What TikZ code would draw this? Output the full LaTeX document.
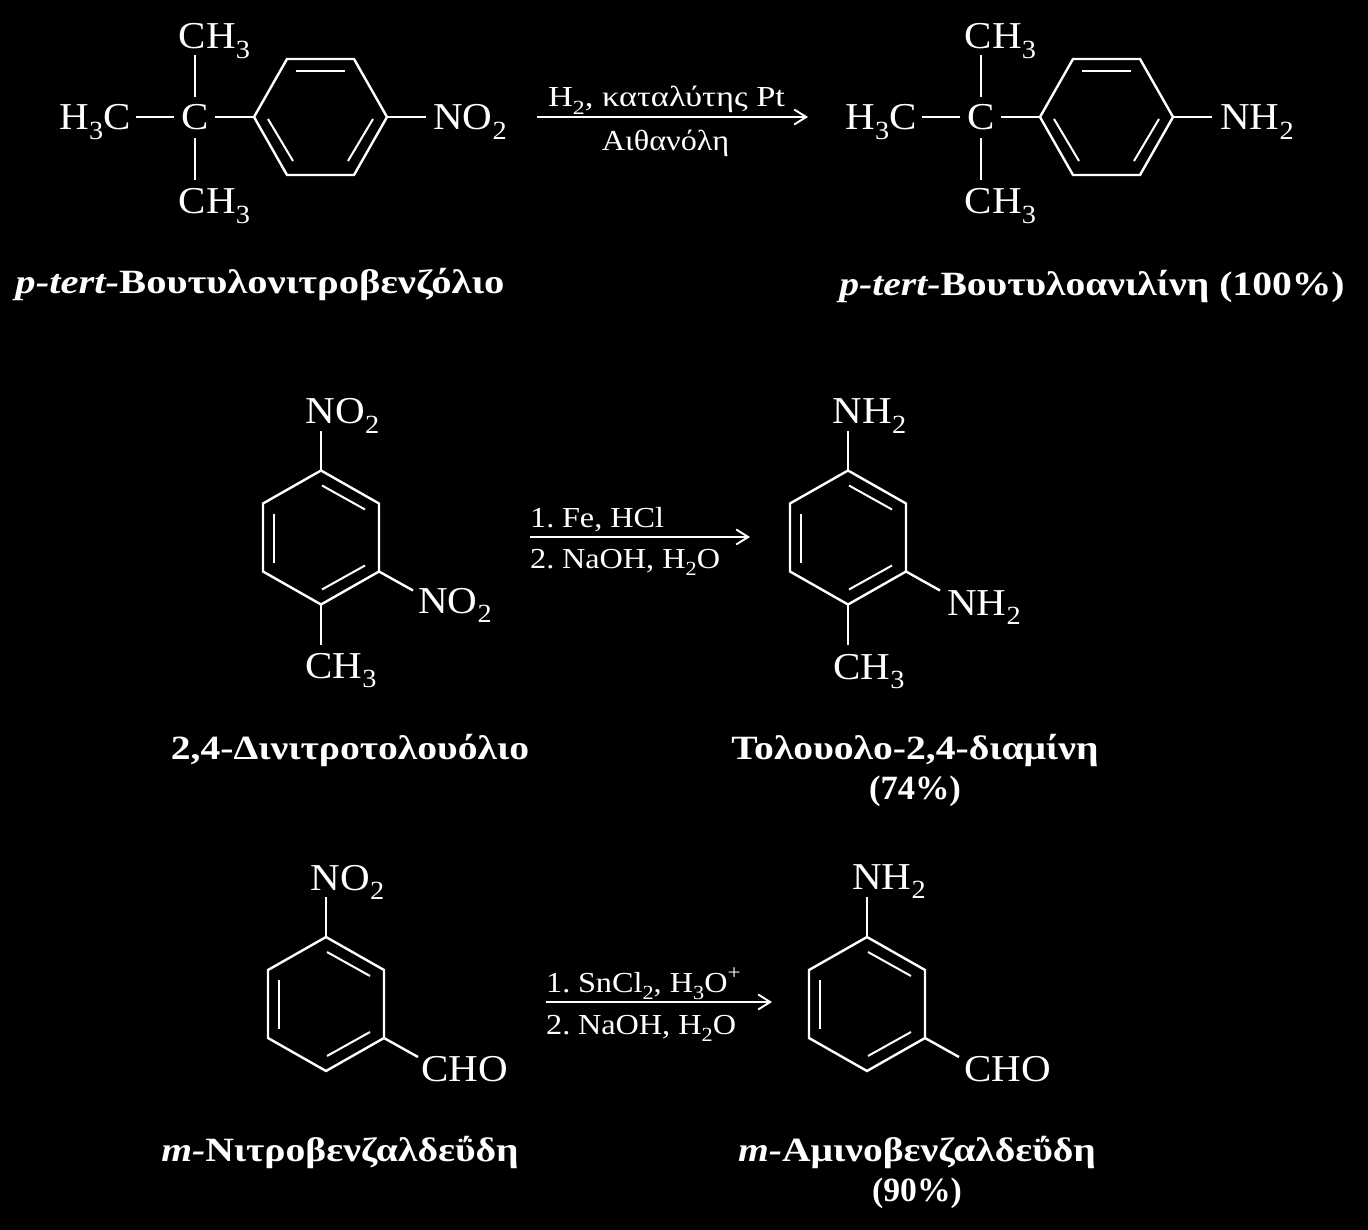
\documentclass[tikz,border=0pt]{standalone}
\usepackage{fontspec}
\setmainfont{Liberation Serif}[FakeStretch=1.08]
\newfontfamily\capfont{Liberation Serif}[FakeStretch=1.165]
\usetikzlibrary{arrows.meta}
\newcommand{\subs}[1]{\raisebox{-0.26em}{\fontsize{0.69em}{1em}\selectfont #1}}
\newcommand{\sups}[1]{\raisebox{0.42em}{\fontsize{0.72em}{1em}\selectfont #1}}
\newcommand{\wider}[1]{\scalebox{1.03}[1]{#1}}
\tikzset{
  bond/.style={draw=white,line width=2.4pt,line join=miter},
  inner bond/.style={draw=white,line width=2pt},
  rxn arrow/.style={draw=white,line width=2.1pt,-{Straight Barb[length=12pt,width=15pt,line width=1.9pt]}},
  atoms/.style={text=white,inner sep=0pt,anchor=base,font=\fontsize{38}{40}\selectfont},
  reagent/.style={text=white,inner sep=0pt,anchor=base,font=\fontsize{29}{32}\selectfont},
  reagentl/.style={reagent,anchor=base west},
  caption/.style={text=white,inner sep=0pt,anchor=base,font=\fontsize{34}{38}\selectfont\capfont\bfseries},
}
% flat-topped benzene ring
\newcommand{\ringflat}[3]{%
  \begin{scope}[shift={(#2,#3)}]
    \coordinate (#1L) at (-66.5,0);
    \coordinate (#1R) at (66.5,0);
    \coordinate (#1TL) at (-33.5,-58);
    \coordinate (#1TR) at (33.5,-58);
    \coordinate (#1BL) at (-33.5,58);
    \coordinate (#1BR) at (33.5,58);
    \coordinate (#1ia) at (-24.5,-46);
    \coordinate (#1ib) at (24.5,-46);
    \coordinate (#1ic) at (-52.5,2);
    \coordinate (#1id) at (-27.5,44);
    \coordinate (#1ie) at (52.5,2);
    \coordinate (#1if) at (27.5,44);
  \end{scope}
  \draw[bond] (#1L) -- (#1TL) -- (#1TR) -- (#1R) -- (#1BR) -- (#1BL) -- cycle;
  \draw[inner bond] (#1ia) -- (#1ib);
  \draw[inner bond] (#1ic) -- (#1id);
  \draw[inner bond] (#1ie) -- (#1if);
}
% pointy-topped benzene ring
\newcommand{\ringpoint}[3]{%
  \begin{scope}[shift={(#2,#3)}]
    \coordinate (#1T) at (0,-67);
    \coordinate (#1UR) at (58,-34);
    \coordinate (#1LR) at (58,34);
    \coordinate (#1B) at (0,67);
    \coordinate (#1LL) at (-58,34);
    \coordinate (#1UL) at (-58,-34);
    \coordinate (#1ia) at (1,-52);
    \coordinate (#1ib) at (44,-28);
    \coordinate (#1ic) at (-47,-24);
    \coordinate (#1id) at (-47,25);
    \coordinate (#1ie) at (44,28);
    \coordinate (#1if) at (1,52);
    \coordinate (#1top) at (0,-107);
    \coordinate (#1sub) at (92,53);
  \end{scope}
  \draw[bond] (#1T) -- (#1UR) -- (#1LR) -- (#1B) -- (#1LL) -- (#1UL) -- cycle;
  \draw[inner bond] (#1ia) -- (#1ib);
  \draw[inner bond] (#1ic) -- (#1id);
  \draw[inner bond] (#1ie) -- (#1if);
  \draw[bond] (#1T) -- (#1top);
  \draw[bond] (#1LR) -- (#1sub);
}
% tert-butyl arm attached to a flat ring
\newcommand{\tbutyl}[2]{%
  \begin{scope}[shift={(#2,117)}]
    \coordinate (#1cw) at (-21,0);
    \coordinate (#1me) at (-59,0);
    \coordinate (#1ce) at (20,0);
    \coordinate (#1cn) at (0,-20);
    \coordinate (#1mn) at (0,-62);
    \coordinate (#1cs) at (0,21);
    \coordinate (#1ms) at (0,63);
  \end{scope}
  \draw[bond] (#1cw) -- (#1me);
  \draw[bond] (#1ce) -- (#1rL);
  \draw[bond] (#1cn) -- (#1mn);
  \draw[bond] (#1cs) -- (#1ms);
}
\begin{document}
\begin{tikzpicture}[x=1pt,y=-1pt]
\fill[black] (0,0) rectangle (1368,1230);
\useasboundingbox (0,0) rectangle (1368,1230);

% ---- reaction 1
\ringflat{ar}{320.5}{117}
\tbutyl{a}{195}
\coordinate (arx) at (426,117);
\draw[bond] (arR) -- (arx);
\node[atoms] (a1) at (214.5,49) {CH\subs{3}};
\node[atoms] (a2) at (95,130) {H\subs{3}C};
\node[atoms] (a3) at (195,130) {C};
\node[atoms] (a4) at (214.5,214) {CH\subs{3}};
\node[atoms] (a5) at (470,130) {NO\subs{2}};
\ringflat{br}{1106.5}{117}
\tbutyl{b}{981}
\coordinate (brx) at (1212,117);
\draw[bond] (brR) -- (brx);
\node[atoms] (b1) at (1000.5,49) {CH\subs{3}};
\node[atoms] (b2) at (881,130) {H\subs{3}C};
\node[atoms] (b3) at (981,130) {C};
\node[atoms] (b4) at (1000.5,214) {CH\subs{3}};
\node[atoms] (b5) at (1257,130) {NH\subs{2}};
\coordinate (r1s) at (537,117);
\coordinate (r1e) at (808,117);
\draw[rxn arrow] (r1s) -- (r1e);
\node[reagent] (r1a) at (666.5,107) {\scalebox{1.1}[1]{H\subs{2}, καταλύτης Pt}};
\node[reagent] (r1b) at (665.5,151) {\wider{Αιθανόλη}};
\node[caption] (a6) at (260,294) {\scalebox{1.025}[1]{\textit{p-tert-}Βουτυλονιτροβενζόλιο}};
\node[caption] (b6) at (1092,296) {\textit{p-tert-}Βουτυλοανιλίνη (100\%)};

% ---- reaction 2
\ringpoint{cr}{321}{537.5}
\coordinate (crm) at (321,645);
\draw[bond] (crB) -- (crm);
\node[atoms] (c1) at (342.5,424) {NO\subs{2}};
\node[atoms] (c2) at (455,613) {NO\subs{2}};
\node[atoms] (c3) at (341,678) {CH\subs{3}};
\ringpoint{dr}{848}{537.5}
\coordinate (drm) at (848,645);
\draw[bond] (drB) -- (drm);
\node[atoms] (d1) at (869.5,424) {NH\subs{2}};
\node[atoms] (d2) at (984,615) {NH\subs{2}};
\node[atoms] (d3) at (869,679) {CH\subs{3}};
\coordinate (r2s) at (530,537);
\coordinate (r2e) at (750,537);
\draw[rxn arrow] (r2s) -- (r2e);
\node[reagentl] (r2a) at (530,527) {\wider{1.\hspace{-3pt} Fe, HCl}};
\node[reagentl] (r2b) at (530,568) {\wider{2.\hspace{-3pt} NaOH, H\subs{2}O}};
\node[caption] (c4) at (350,759) {2,4-Δινιτροτολουόλιο};
\node[caption] (d4) at (915,759) {Τολουολο-2,4-διαμίνη};
\node[caption] (d5) at (915,799) {\scalebox{0.87}[1]{(74\%)}};

% ---- reaction 3
\ringpoint{er}{326}{1004}
\node[atoms] (e1) at (347.5,890) {NO\subs{2}};
\node[atoms] (e2) at (464.5,1081) {CHO};
\ringpoint{fr}{867}{1004}
\node[atoms] (f1) at (889,889) {NH\subs{2}};
\node[atoms] (f2) at (1007.5,1081) {CHO};
\coordinate (r3s) at (546,1002);
\coordinate (r3e) at (772,1002);
\draw[rxn arrow] (r3s) -- (r3e);
\node[reagentl] (r3a) at (546,992) {\wider{1.\hspace{-3pt} SnCl\subs{2}, H\subs{3}O\sups{+}}};
\node[reagentl] (r3b) at (546,1034) {\wider{2.\hspace{-3pt} NaOH, H\subs{2}O}};
\node[caption] (e3) at (340,1161) {\textit{m-}Νιτροβενζαλδεΰδη};
\node[caption] (f3) at (917,1161) {\textit{m-}Αμινοβενζαλδεΰδη};
\node[caption] (f4) at (917,1201) {\scalebox{0.85}[1]{(90\%)}};
\end{tikzpicture}
\end{document}
